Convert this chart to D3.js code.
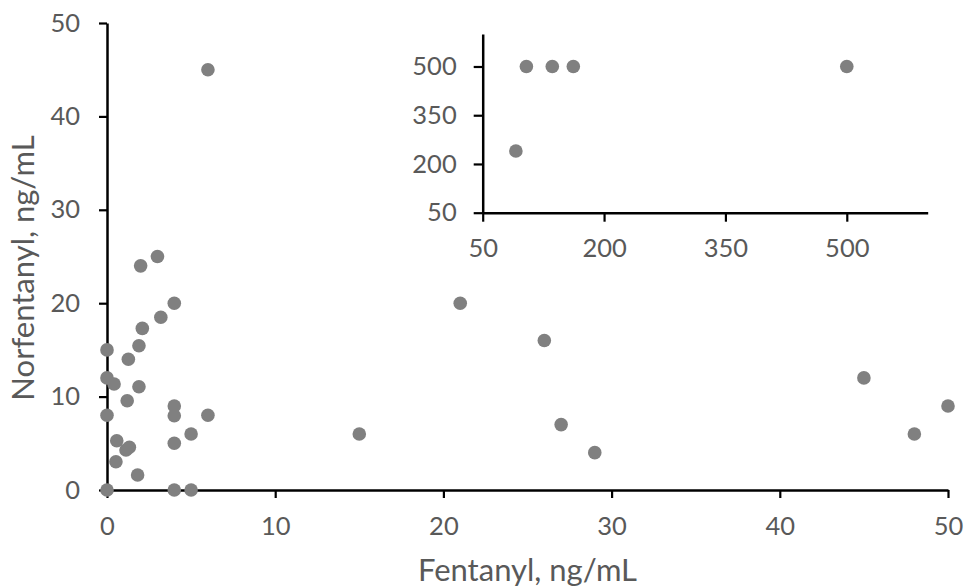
<!DOCTYPE html>
<html>
<head>
<meta charset="utf-8">
<script src="https://cdn.jsdelivr.net/npm/d3@7"></script>
<style>
  html, body { margin: 0; padding: 0; background: #fff; }
  #chart text { font-family: Lato, "Open Sans", sans-serif; fill: #595959; }
</style>
</head>
<body>
<div id="chart"></div>
<script>
// main panel: fentanyl vs norfentanyl (ng/mL)
const fentanyl = [6, 3, 2, 4, 3.2, 2.1, 1.9, 0, 1.27, 0, 0.42, 1.9, 1.2, 4, 4, 0, 6, 5, 0.58, 4,
  1.33, 1.13, 0.53, 1.82, 0, 4, 5, 15, 21, 26, 27, 29, 45, 48, 50];
const norfentanyl = [45, 25, 24, 20, 18.5, 17.3, 15.45, 15, 14, 12, 11.35, 11.06, 9.56, 9, 7.95, 8, 8, 6, 5.28, 5,
  4.57, 4.28, 3.03, 1.6, 0, 0, 0, 6, 20, 16, 7, 4, 12, 6, 9];
const mainTicks = [0, 10, 20, 30, 40, 50];

// inset panel: high-concentration cases
const insetFentanyl = [91, 104, 136, 162, 500];
const insetNorfentanyl = [240, 500, 500, 500, 500];
const insetTicks = [50, 200, 350, 500];

let draw = () => {
  d3.select("#chart").select("svg").remove();

  let width = 965;
  let height = 587;

  let svg = d3
    .select("#chart")
    .append("svg")
    .attr("width", width)
    .attr("height", height);

  let xScale = d3.scaleLinear().domain([0, 50]).range([107, 948]);
  let yScale = d3.scaleLinear().domain([0, 50]).range([490, 23]);

  let styleAxis = (g) => {
    g.select(".domain").attr("stroke", "#000").attr("stroke-width", 2.5);
    g.selectAll(".tick line").attr("stroke", "#000").attr("stroke-width", 2.2);
    g.selectAll(".tick text").attr("font-size", "25.5px");
  };

  svg
    .append("g")
    .attr("transform", `translate(0, ${yScale(0)})`)
    .call(d3.axisBottom(xScale).tickValues(mainTicks).tickSize(8).tickSizeOuter(0).tickPadding(19))
    .call(styleAxis);

  svg
    .append("g")
    .attr("transform", `translate(${xScale(0)}, 0)`)
    .call(d3.axisLeft(yScale).tickValues(mainTicks).tickSize(8).tickSizeOuter(0).tickPadding(19))
    .call(styleAxis);

  svg
    .append("text")
    .attr("x", (xScale(0) + xScale(50)) / 2)
    .attr("y", 581)
    .attr("text-anchor", "middle")
    .attr("font-size", "31px")
    .text("Fentanyl, ng/mL");

  svg
    .append("text")
    .attr("transform", `translate(34, 268) rotate(-90)`)
    .attr("text-anchor", "middle")
    .attr("font-size", "31px")
    .text("Norfentanyl, ng/mL");

  svg
    .selectAll(".pt")
    .data(fentanyl.map((d, i) => ({ x: d, y: norfentanyl[i] })))
    .enter()
    .append("circle")
    .attr("cx", (d) => xScale(d.x))
    .attr("cy", (d) => yScale(d.y))
    .attr("r", 6.8)
    .attr("fill", "#808080");

  // inset
  let ixScale = d3.scaleLinear().domain([50, 600]).range([482.7, 927.7]);
  let iyScale = d3.scaleLinear().domain([50, 600]).range([212.7, 34]);

  svg
    .append("g")
    .attr("transform", `translate(0, ${iyScale(50)})`)
    .call(d3.axisBottom(ixScale).tickValues(insetTicks).tickSize(9).tickSizeOuter(0).tickPadding(17))
    .call(styleAxis);

  svg
    .append("g")
    .attr("transform", `translate(${ixScale(50)}, 0)`)
    .call(d3.axisLeft(iyScale).tickValues(insetTicks).tickSize(9).tickSizeOuter(0).tickPadding(17))
    .call(styleAxis);

  svg
    .selectAll(".ipt")
    .data(insetFentanyl.map((d, i) => ({ x: d, y: insetNorfentanyl[i] })))
    .enter()
    .append("circle")
    .attr("cx", (d) => ixScale(d.x))
    .attr("cy", (d) => iyScale(d.y))
    .attr("r", 6.8)
    .attr("fill", "#808080");
};

draw();
</script>
</body>
</html>
